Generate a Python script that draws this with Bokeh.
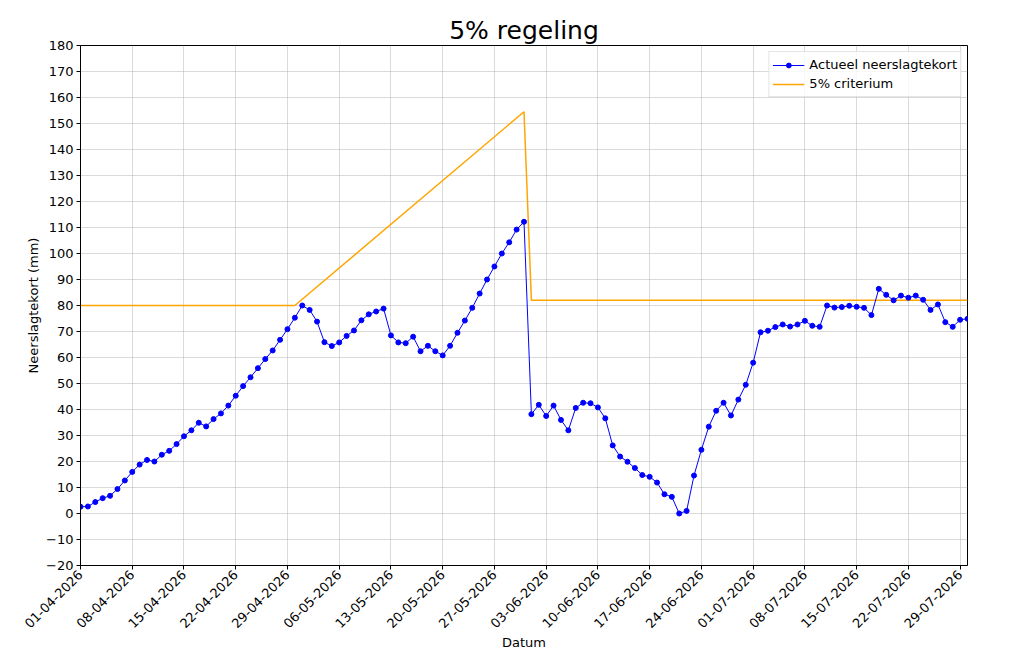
import pandas as pd
from math import pi
from bokeh.plotting import figure
from bokeh.models import Range1d, FixedTicker, DatetimeTickFormatter, ColumnDataSource
from bokeh.embed import file_html
from bokeh.resources import INLINE

# Actueel neerslagtekort (mm), one value per day starting 01-04-2026
start_date = "2026-04-01"
tekort = [
    2.6, 2.7, 4.4, 5.9, 6.8, 9.4, 12.7, 16.0, 18.8, 20.6,
    20.0, 22.6, 24.1, 26.7, 29.7, 32.0, 34.9, 33.5, 36.3, 38.5,
    41.5, 45.3, 49.0, 52.4, 55.9, 59.4, 62.7, 66.8, 70.9, 75.3,
    80.0, 78.3, 73.8, 65.9, 64.4, 65.8, 68.3, 70.4, 74.3, 76.6,
    77.7, 78.8, 68.5, 65.8, 65.5, 68.0, 62.4, 64.5, 62.4, 60.8,
    64.5, 69.5, 74.2, 79.1, 84.6, 90.0, 95.0, 100.0, 104.3, 109.2,
    112.2, 38.2, 41.8, 37.5, 41.5, 36.0, 32.0, 40.6, 42.6, 42.4,
    40.8, 36.6, 26.2, 21.9, 19.9, 17.5, 14.8, 14.1, 11.9, 7.4,
    6.4, 0.0, 1.0, 14.6, 24.5, 33.4, 39.5, 42.6, 37.7, 43.8,
    49.5, 58.0, 69.7, 70.3, 71.7, 72.7, 71.9, 72.7, 74.1, 72.2,
    71.8, 80.0, 79.2, 79.4, 79.9, 79.5, 79.1, 76.3, 86.4, 84.1,
    82.0, 83.8, 83.0, 83.8, 82.2, 78.3, 80.4, 73.6, 71.8, 74.5,
    74.9,
]

# 5% criterium (mm), breakpoints
crit_dates = ["2026-04-01", "2026-04-30", "2026-05-31", "2026-06-01", "2026-07-30"]
crit_values = [80, 80, 154.5, 82, 82]

tick_dates = [
    "2026-04-01", "2026-04-08", "2026-04-15", "2026-04-22", "2026-04-29",
    "2026-05-06", "2026-05-13", "2026-05-20", "2026-05-27", "2026-06-03",
    "2026-06-10", "2026-06-17", "2026-06-24", "2026-07-01", "2026-07-08",
    "2026-07-15", "2026-07-22", "2026-07-29",
]
y_ticks = list(range(-20, 190, 10))

dates = pd.date_range(start_date, periods=len(tekort), freq="D")
src = ColumnDataSource(dict(datum=dates, tekort=tekort))
crit_src = ColumnDataSource(dict(datum=pd.to_datetime(crit_dates), waarde=crit_values))

font = "DejaVu Sans"

p = figure(
    title="5% regeling",
    x_axis_type="datetime",
    frame_width=887, frame_height=520,
    min_border_left=80, min_border_right=41, min_border_top=45, min_border_bottom=80,
    x_range=Range1d(dates[0], dates[-1]),
    y_range=Range1d(-20, 180),
    output_backend="svg", toolbar_location=None,
    x_axis_label="Datum", y_axis_label="Neerslagtekort (mm)",
)

p.line("datum", "waarde", source=crit_src, line_color="orange", line_width=1.5,
       legend_label="5% criterium")
p.line("datum", "tekort", source=src, line_color="blue", line_width=1,
       legend_label="Actueel neerslagtekort")
p.scatter("datum", "tekort", source=src, size=5, fill_color="blue", line_color="blue",
          legend_label="Actueel neerslagtekort")

# title
p.title.text_font = font
p.title.text_font_size = "25px"
p.title.text_font_style = "normal"
p.title.align = "center"
p.title.text_color = "black"
p.title.standoff = 2

# axes
p.xaxis.ticker = FixedTicker(ticks=[pd.Timestamp(d).value // 10**6 for d in tick_dates])
p.xaxis.formatter = DatetimeTickFormatter(days="%d-%m-%Y", months="%d-%m-%Y")
p.xaxis.major_label_orientation = pi / 4
p.yaxis.ticker = FixedTicker(ticks=y_ticks)

for ax in (p.xaxis, p.yaxis):
    ax.axis_label_text_font = font
    ax.axis_label_text_font_size = "13px"
    ax.axis_label_text_font_style = "normal"
    ax.axis_label_text_color = "black"
    ax.major_label_text_font = font
    ax.major_label_text_font_size = "13px"
    ax.major_label_text_color = "black"
    ax.major_label_standoff = 3
    ax.axis_line_color = "black"
    ax.major_tick_line_color = "black"
    ax.major_tick_out = 4
    ax.major_tick_in = 0
    ax.minor_tick_line_color = None
p.yaxis.axis_label_standoff = 2
p.xaxis.axis_label_standoff = 0

p.grid.grid_line_color = "#b0b0b0"
p.grid.grid_line_alpha = 0.6
p.grid.grid_line_width = 0.8
p.outline_line_color = "black"
p.outline_line_alpha = 1

# legend
p.legend.location = "top_right"
p.legend.margin = 6
p.legend.padding = 3
p.legend.spacing = 0
p.legend.glyph_width = 32
p.legend.glyph_height = 12
p.legend.label_height = 19
p.legend.label_text_font = font
p.legend.label_text_font_size = "13px"
p.legend.label_text_color = "black"
p.legend.border_line_color = "#cccccc"
p.legend.background_fill_alpha = 0.8
# keep legend order: measured series first
p.legend.items = [p.legend.items[1], p.legend.items[0]]

open("out.html", "w").write(file_html(p, INLINE))
